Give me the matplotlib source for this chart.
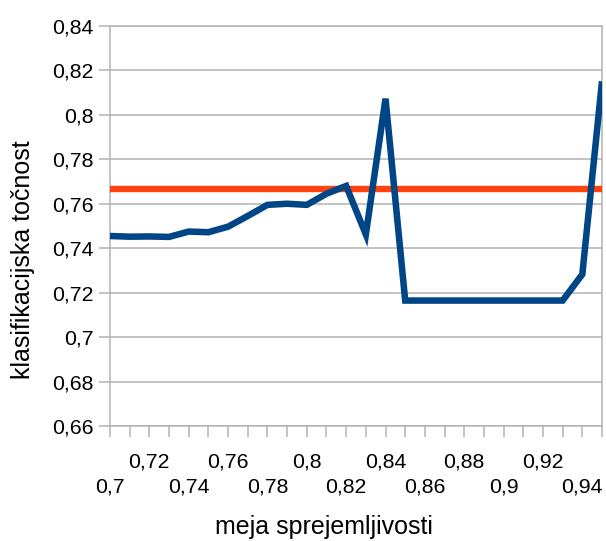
import matplotlib
matplotlib.use("Agg")
import matplotlib.pyplot as plt
import numpy as np

plt.rcParams['font.family'] = ['Liberation Sans', 'DejaVu Sans']

# data
thresholds = [0.70, 0.71, 0.72, 0.73, 0.74, 0.75, 0.76, 0.77, 0.78, 0.79,
              0.80, 0.81, 0.82, 0.83, 0.84, 0.85, 0.86, 0.87, 0.88, 0.89,
              0.90, 0.91, 0.92, 0.93, 0.94, 0.95]
accuracy = [0.7455, 0.7452, 0.7453, 0.7451, 0.7475, 0.7472, 0.7497, 0.7545,
            0.7595, 0.7600, 0.7595, 0.7645, 0.7680, 0.7462, 0.8072, 0.7165,
            0.7165, 0.7165, 0.7165, 0.7165, 0.7165, 0.7165, 0.7165, 0.7165,
            0.7283, 0.8150]
baseline = 0.7668
yticks = [0.66, 0.68, 0.70, 0.72, 0.74, 0.76, 0.78, 0.80, 0.82, 0.84]
xlabel = "meja sprejemljivosti"
ylabel = "klasifikacijska točnost"

def fmt(v):
    s = ("%.2f" % v).rstrip('0').rstrip('.')
    return s.replace('.', ',')

W, H = 606, 541
fig = plt.figure(figsize=(W / 100, H / 100), dpi=100)
left, right, top, bottom = 110, 602, 25.7, 426.3
ax = fig.add_axes([left / W, 1 - bottom / H, (right - left) / W, (bottom - top) / H])

blue = '#004586'
red = '#ff420e'
grid = '#b3b3b3'

ax.plot(thresholds, [baseline] * len(thresholds), color=red, lw=4.6,
        solid_capstyle='butt', zorder=3)
ax.plot(thresholds, accuracy, color=blue, lw=4.7, solid_joinstyle='miter',
        solid_capstyle='butt', zorder=4)

ax.set_xlim(thresholds[0], thresholds[-1])
ax.set_ylim(yticks[0], yticks[-1])
ax.set_yticks(yticks)
ax.set_yticklabels([fmt(v) for v in yticks], fontsize=15.3)
ax.yaxis.grid(True, color=grid, lw=1.1)
ax.set_axisbelow(True)

ax.set_xticks(thresholds)
labels = []
for i, v in enumerate(thresholds):
    if i % 4 == 0:
        labels.append("\n" + fmt(v))
    elif i % 4 == 2:
        labels.append(fmt(v))
    else:
        labels.append("")
ax.set_xticklabels(labels, fontsize=15.3, linespacing=1.38)

ax.tick_params(axis='x', direction='out', length=8, width=1.1, color=grid, pad=11)
ax.tick_params(axis='y', direction='out', length=8, width=1.1, color=grid, pad=4)
for s in ax.spines.values():
    s.set_color(grid)
    s.set_linewidth(1.1)

fig.text(324 / W, 1 - 527 / H, xlabel, fontsize=18, ha='center', va='center')
fig.text(23 / W, 1 - 260 / H, ylabel, fontsize=18, ha='center', va='center',
         rotation=90)

fig.savefig("out.png", dpi=100)
